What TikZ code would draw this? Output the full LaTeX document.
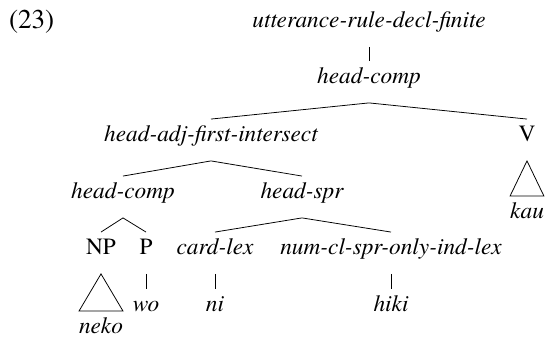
\documentclass[tikz,border=0pt]{standalone}
\usepackage{fontspec}
\setmainfont{Liberation Serif}
\newfontfamily\treefont{texgyretermes}[Extension=.otf, UprightFont=*-regular, ItalicFont=*-italic]
\begin{document}
\begin{tikzpicture}[x=0.515pt,y=-0.515pt,
    lbl/.style={font=\treefont\fontsize{12}{14}\selectfont\itshape, inner sep=0pt, outer xsep=0pt,
      outer ysep=1.5pt, text height=9.8pt, text depth=8.75pt, anchor=base},
    cat/.style={lbl, font=\treefont\fontsize{12}{14}\selectfont\upshape}]
        \useasboundingbox (0,0) rectangle (546,341);
        \node[cat, anchor=base west, font=\treefont\fontsize{14}{16}\selectfont] (exnum) at (9,28) {(23)};
        % Top
        \node[lbl] (utt) at (369,27) {utterance-rule-decl-finite};
        \node[lbl] (hcomp) at (369,83) {head-comp};
        \draw (utt.south) -- (hcomp.north);
        % Second level
        \node[lbl] (hadj) at (211,141) {head-adj-first-intersect};
        \node[cat] (verb) at (527,141) {V};
        \draw (hadj.north) -- (hcomp.south) -- (verb.north);
        \node[lbl] (kau) at (527,218) {kau};
        \draw (verb.south) -- (kau.north west) -- (kau.north east) -- cycle;
        % Third level
        \node[lbl] (hcompb) at (123,198) {head-comp};
        \node[lbl] (hspr) at (302,198) {head-spr};
        \draw (hcompb.north) -- (hadj.south) -- (hspr.north);
        % Fourth level
        \node[cat] (np) at (101,254) {NP};
        \node[cat] (post) at (146,254) {P};
        \draw (np.north) -- (hcompb.south) -- (post.north);
        \node[lbl] (card) at (215,254) {card-lex};
        \node[lbl] (numcl) at (391,254) {num-cl-spr-only-ind-lex};
        \draw (card.north) -- (hspr.south) -- (numcl.north);
        % Leaves
        \node[lbl] (neko) at (101,333) {neko};
        \draw (np.south) -- (neko.north west) -- (neko.north east) -- cycle;
        \node[lbl] (wo) at (146,311) {wo};
        \draw (post.south) -- (wo.north);
        \node[lbl] (ni) at (215,311) {ni};
        \draw (card.south) -- (ni.north);
        \node[lbl] (hiki) at (391,311) {hiki};
        \draw (numcl.south) -- (hiki.north);
\end{tikzpicture}
\end{document}
